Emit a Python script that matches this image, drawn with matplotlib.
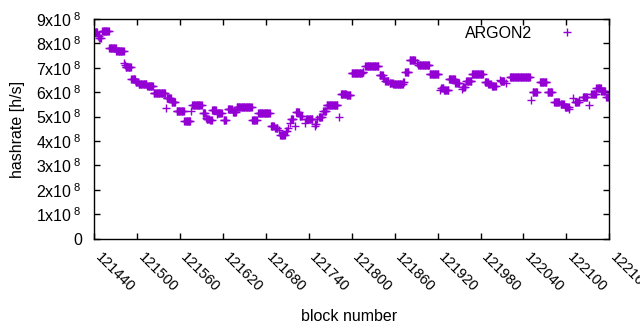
import numpy as np
import matplotlib
matplotlib.use("Agg")
import matplotlib.pyplot as plt
import matplotlib.transforms as mtransforms

# runs of blocks with the same hashrate (value in 1e8 h/s)
seg_start = [121441, 121445, 121447, 121451, 121461, 121471, 121482, 121483, 121484, 121492,
             121498, 121502, 121514, 121523, 121540, 121541, 121548, 121555, 121566, 121575,
             121577, 121592, 121596, 121597, 121602, 121605, 121612, 121613, 121621, 121627,
             121634, 121639, 121661, 121669, 121687, 121693, 121698, 121700, 121708, 121711,
             121714, 121715, 121720, 121722, 121727, 121734, 121736, 121748, 121749, 121752,
             121754, 121760, 121765, 121782, 121785, 121793, 121800, 121815, 121819, 121839,
             121844, 121847, 121853, 121858, 121872, 121875, 121881, 121891, 121893, 121909,
             121923, 121925, 121929, 121936, 121945, 121954, 121955, 121960, 121968, 121986,
             121991, 121996, 122007, 122008, 122016, 122021, 122050, 122053, 122063, 122074,
             122083, 122092, 122098, 122104, 122109, 122112, 122118, 122123, 122132, 122135,
             122142, 122149, 122156]
seg_end = [121444, 121446, 121449, 121460, 121470, 121481, 121482, 121483, 121491, 121497,
           121501, 121513, 121522, 121539, 121540, 121547, 121553, 121565, 121574, 121575,
           121590, 121595, 121596, 121600, 121604, 121610, 121612, 121618, 121624, 121632,
           121638, 121660, 121667, 121685, 121691, 121696, 121698, 121706, 121709, 121711,
           121714, 121718, 121720, 121726, 121730, 121734, 121745, 121748, 121750, 121752,
           121758, 121764, 121780, 121782, 121792, 121798, 121814, 121816, 121837, 121843,
           121845, 121851, 121857, 121871, 121873, 121879, 121888, 121891, 121908, 121921,
           121923, 121928, 121935, 121944, 121950, 121954, 121958, 121967, 121983, 121990,
           121994, 122001, 122007, 122013, 122016, 122049, 122050, 122059, 122072, 122080,
           122090, 122096, 122103, 122104, 122109, 122117, 122118, 122129, 122132, 122141,
           122148, 122154, 122160]
seg_value = [8.45, 8.32, 8.22, 8.50, 7.80, 7.68, 7.18, 7.12, 7.02, 6.53,
             6.43, 6.32, 6.25, 5.96, 5.34, 5.75, 5.59, 5.22, 4.83, 5.22,
             5.48, 5.15, 4.95, 4.92, 4.88, 5.26, 5.10, 5.16, 4.86, 5.30,
             5.17, 5.38, 4.86, 5.14, 4.63, 4.52, 4.45, 4.26, 4.40, 4.52,
             4.75, 4.89, 4.62, 5.18, 5.04, 4.75, 4.89, 4.62, 4.68, 4.89,
             5.00, 5.24, 5.46, 5.00, 5.91, 5.87, 6.78, 6.84, 7.07, 6.71,
             6.60, 6.46, 6.37, 6.32, 6.40, 6.84, 7.32, 7.18, 7.12, 6.75,
             6.09, 6.16, 6.09, 6.53, 6.37, 6.12, 6.20, 6.46, 6.75, 6.40,
             6.32, 6.25, 6.50, 6.45, 6.37, 6.61, 5.68, 6.00, 6.40, 6.00,
             5.59, 5.51, 5.38, 5.30, 5.75, 5.61, 5.70, 5.79, 5.46, 5.91,
             6.19, 6.06, 5.79]

xticks = list(range(121440, 122161, 60))
yticks = [i * 1e8 for i in range(10)]
ytick_labels = ["0"] + ["%dx10$^{\\ 8}$" % i for i in range(1, 10)]

blocks = []
rates = []
for s, e, v in zip(seg_start, seg_end, seg_value):
    for b in range(s, e + 1):
        blocks.append(b)
        rates.append(v * 1e8)

plt.rcParams.update({
    "font.family": ["Liberation Sans", "DejaVu Sans"],
    "font.size": 11.5,
    "mathtext.fontset": "custom",
    "mathtext.rm": "Liberation Sans",
    "mathtext.it": "Liberation Sans:italic",
    "mathtext.bf": "Liberation Sans:bold",
})

fig = plt.figure(figsize=(6.4, 3.3), dpi=100)
ax = fig.add_axes([0.1473, 0.2767, 0.8047, 0.6657])

ax.plot(blocks, rates, "+", color="#9400d3", markersize=5.5, markeredgewidth=1.0,
        linestyle="none", label="ARGON2")

ax.set_xlim(121440, 122160)
ax.set_ylim(0, 9e8)
ax.tick_params(direction="in", length=4, width=1, top=True, right=True)
ax.tick_params(axis="x", pad=8)
ax.tick_params(axis="y", pad=9)
ax.set_xticks(xticks)
ax.set_xticklabels([str(t) for t in xticks], rotation=-45, ha="left", va="top",
                   rotation_mode="anchor", fontsize=10.5)
ax.set_yticks(yticks)
ax.set_yticklabels(ytick_labels)
# gnuplot puts the rotated labels a bit to the right of the tick
shift = mtransforms.ScaledTranslation(0.08, 0, fig.dpi_scale_trans)
for lab in ax.get_xticklabels():
    lab.set_transform(lab.get_transform() + shift)
for sp in ax.spines.values():
    sp.set_linewidth(1)

fig.text(0.545, 0.042, "block number", ha="center", va="center")
fig.text(0.027, 0.609, "hashrate [h/s]", ha="center", va="center", rotation=90)

ax.legend(loc="upper right", bbox_to_anchor=(0.949, 0.97), frameon=False,
          markerfirst=False, handlelength=2, handletextpad=1.2,
          borderpad=0, borderaxespad=0)

fig.savefig("out.png", dpi=100)
